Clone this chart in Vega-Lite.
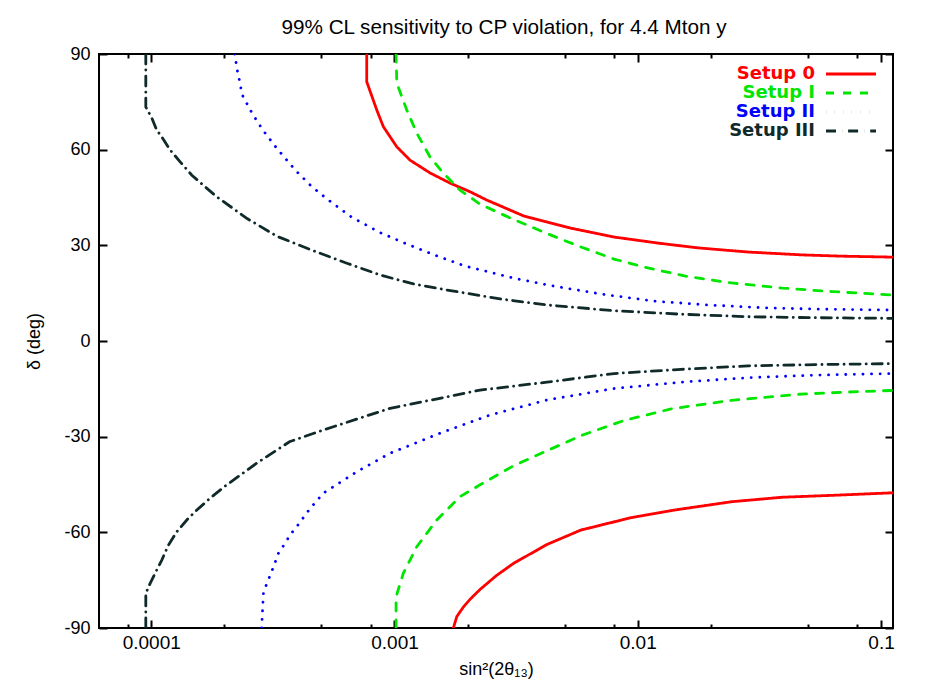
{
  "$schema": "https://vega.github.io/schema/vega-lite/v6.json",
  "width": 794,
  "height": 574,
  "autosize": {"type": "none"},
  "padding": {"left": 99, "top": 54, "right": 46, "bottom": 63},
  "background": "white",
  "title": {"text": "99% CL sensitivity to CP violation, for 4.4 Mton y", "font": "Liberation Sans", "fontSize": 20.7, "fontWeight": "normal", "color": "black", "offset": 6, "dx": 8},
  "config": {
    "view": {"stroke": "black", "strokeWidth": 2},
    "font": "Liberation Sans",
    "axis": {"labelFont": "Liberation Sans", "labelFontSize": 18, "labelColor": "black", "titleFont": "Liberation Sans", "titleFontSize": 18, "titleFontWeight": "normal", "titleColor": "black", "tickColor": "black", "tickWidth": 2, "grid": false, "domain": false, "labelFlush": false}
  },
  "data": {"values": [
    {"setup": "Setup 0", "branch": "u0", "i": 1, "x": 0.000769, "y": 90},
    {"setup": "Setup 0", "branch": "u0", "i": 2, "x": 0.000769, "y": 81.3},
    {"setup": "Setup 0", "branch": "u0", "i": 3, "x": 0.000846, "y": 72.4},
    {"setup": "Setup 0", "branch": "u0", "i": 4, "x": 0.0009, "y": 67.2},
    {"setup": "Setup 0", "branch": "u0", "i": 5, "x": 0.001022, "y": 60.9},
    {"setup": "Setup 0", "branch": "u0", "i": 6, "x": 0.001159, "y": 56.7},
    {"setup": "Setup 0", "branch": "u0", "i": 7, "x": 0.0014, "y": 52.7},
    {"setup": "Setup 0", "branch": "u0", "i": 8, "x": 0.001693, "y": 49.5},
    {"setup": "Setup 0", "branch": "u0", "i": 9, "x": 0.002045, "y": 46.8},
    {"setup": "Setup 0", "branch": "u0", "i": 10, "x": 0.002395, "y": 44.2},
    {"setup": "Setup 0", "branch": "u0", "i": 11, "x": 0.0034, "y": 39.2},
    {"setup": "Setup 0", "branch": "u0", "i": 12, "x": 0.0053, "y": 35.4},
    {"setup": "Setup 0", "branch": "u0", "i": 13, "x": 0.00799, "y": 32.6},
    {"setup": "Setup 0", "branch": "u0", "i": 14, "x": 0.01212, "y": 30.7},
    {"setup": "Setup 0", "branch": "u0", "i": 15, "x": 0.01769, "y": 29.2},
    {"setup": "Setup 0", "branch": "u0", "i": 16, "x": 0.0284, "y": 27.9},
    {"setup": "Setup 0", "branch": "u0", "i": 17, "x": 0.04735, "y": 27.0},
    {"setup": "Setup 0", "branch": "u0", "i": 18, "x": 0.06914, "y": 26.6},
    {"setup": "Setup 0", "branch": "u0", "i": 19, "x": 0.112, "y": 26.3},
    {"setup": "Setup 0", "branch": "l0", "i": 1, "x": 0.001746, "y": -90},
    {"setup": "Setup 0", "branch": "l0", "i": 2, "x": 0.001804, "y": -86.4},
    {"setup": "Setup 0", "branch": "l0", "i": 3, "x": 0.001920, "y": -83.4},
    {"setup": "Setup 0", "branch": "l0", "i": 4, "x": 0.002045, "y": -81.0},
    {"setup": "Setup 0", "branch": "l0", "i": 5, "x": 0.002248, "y": -77.9},
    {"setup": "Setup 0", "branch": "l0", "i": 6, "x": 0.00262, "y": -73.6},
    {"setup": "Setup 0", "branch": "l0", "i": 7, "x": 0.00309, "y": -69.7},
    {"setup": "Setup 0", "branch": "l0", "i": 8, "x": 0.004238, "y": -63.8},
    {"setup": "Setup 0", "branch": "l0", "i": 9, "x": 0.005831, "y": -59.3},
    {"setup": "Setup 0", "branch": "l0", "i": 10, "x": 0.00939, "y": -55.4},
    {"setup": "Setup 0", "branch": "l0", "i": 11, "x": 0.01418, "y": -53.0},
    {"setup": "Setup 0", "branch": "l0", "i": 12, "x": 0.02434, "y": -50.4},
    {"setup": "Setup 0", "branch": "l0", "i": 13, "x": 0.03918, "y": -49.0},
    {"setup": "Setup 0", "branch": "l0", "i": 14, "x": 0.06288, "y": -48.4},
    {"setup": "Setup 0", "branch": "l0", "i": 15, "x": 0.112, "y": -47.6},
    {"setup": "Setup I", "branch": "u1", "i": 1, "x": 0.001015, "y": 90},
    {"setup": "Setup I", "branch": "u1", "i": 2, "x": 0.001022, "y": 80.9},
    {"setup": "Setup I", "branch": "u1", "i": 3, "x": 0.001124, "y": 72.4},
    {"setup": "Setup I", "branch": "u1", "i": 4, "x": 0.001235, "y": 65.2},
    {"setup": "Setup I", "branch": "u1", "i": 5, "x": 0.0014, "y": 57.7},
    {"setup": "Setup I", "branch": "u1", "i": 6, "x": 0.001584, "y": 52.7},
    {"setup": "Setup I", "branch": "u1", "i": 7, "x": 0.001861, "y": 47.3},
    {"setup": "Setup I", "branch": "u1", "i": 8, "x": 0.002248, "y": 42.9},
    {"setup": "Setup I", "branch": "u1", "i": 9, "x": 0.002986, "y": 38.6},
    {"setup": "Setup I", "branch": "u1", "i": 10, "x": 0.004238, "y": 33.7},
    {"setup": "Setup I", "branch": "u1", "i": 11, "x": 0.005831, "y": 29.5},
    {"setup": "Setup I", "branch": "u1", "i": 12, "x": 0.00799, "y": 25.7},
    {"setup": "Setup I", "branch": "u1", "i": 13, "x": 0.01102, "y": 22.9},
    {"setup": "Setup I", "branch": "u1", "i": 14, "x": 0.0161, "y": 20.2},
    {"setup": "Setup I", "branch": "u1", "i": 15, "x": 0.02434, "y": 18.2},
    {"setup": "Setup I", "branch": "u1", "i": 16, "x": 0.03918, "y": 16.6},
    {"setup": "Setup I", "branch": "u1", "i": 17, "x": 0.06288, "y": 15.5},
    {"setup": "Setup I", "branch": "u1", "i": 18, "x": 0.112, "y": 14.4},
    {"setup": "Setup I", "branch": "l1", "i": 1, "x": 0.001015, "y": -90},
    {"setup": "Setup I", "branch": "l1", "i": 2, "x": 0.001015, "y": -80.2},
    {"setup": "Setup I", "branch": "l1", "i": 3, "x": 0.001088, "y": -72.8},
    {"setup": "Setup I", "branch": "l1", "i": 4, "x": 0.001235, "y": -64.5},
    {"setup": "Setup I", "branch": "l1", "i": 5, "x": 0.001493, "y": -56.1},
    {"setup": "Setup I", "branch": "l1", "i": 6, "x": 0.001861, "y": -48.8},
    {"setup": "Setup I", "branch": "l1", "i": 7, "x": 0.002248, "y": -45.1},
    {"setup": "Setup I", "branch": "l1", "i": 8, "x": 0.00309, "y": -39.1},
    {"setup": "Setup I", "branch": "l1", "i": 9, "x": 0.004238, "y": -34.4},
    {"setup": "Setup I", "branch": "l1", "i": 10, "x": 0.005831, "y": -29.7},
    {"setup": "Setup I", "branch": "l1", "i": 11, "x": 0.00881, "y": -24.9},
    {"setup": "Setup I", "branch": "l1", "i": 12, "x": 0.0137, "y": -21.3},
    {"setup": "Setup I", "branch": "l1", "i": 13, "x": 0.02434, "y": -18.6},
    {"setup": "Setup I", "branch": "l1", "i": 14, "x": 0.04593, "y": -16.7},
    {"setup": "Setup I", "branch": "l1", "i": 15, "x": 0.07387, "y": -16.0},
    {"setup": "Setup I", "branch": "l1", "i": 16, "x": 0.112, "y": -15.5},
    {"setup": "Setup II", "branch": "u2", "i": 1, "x": 0.0002203, "y": 90},
    {"setup": "Setup II", "branch": "u2", "i": 2, "x": 0.000227, "y": 83.9},
    {"setup": "Setup II", "branch": "u2", "i": 3, "x": 0.000232, "y": 80.8},
    {"setup": "Setup II", "branch": "u2", "i": 4, "x": 0.0002358, "y": 77.4},
    {"setup": "Setup II", "branch": "u2", "i": 5, "x": 0.0002472, "y": 74.5},
    {"setup": "Setup II", "branch": "u2", "i": 6, "x": 0.0002591, "y": 71.6},
    {"setup": "Setup II", "branch": "u2", "i": 7, "x": 0.0002732, "y": 68.8},
    {"setup": "Setup II", "branch": "u2", "i": 8, "x": 0.0002892, "y": 65.9},
    {"setup": "Setup II", "branch": "u2", "i": 9, "x": 0.000308, "y": 63.2},
    {"setup": "Setup II", "branch": "u2", "i": 10, "x": 0.0003283, "y": 60.4},
    {"setup": "Setup II", "branch": "u2", "i": 11, "x": 0.0003495, "y": 58.0},
    {"setup": "Setup II", "branch": "u2", "i": 12, "x": 0.0003723, "y": 55.5},
    {"setup": "Setup II", "branch": "u2", "i": 13, "x": 0.0003966, "y": 53.1},
    {"setup": "Setup II", "branch": "u2", "i": 14, "x": 0.0004571, "y": 48.4},
    {"setup": "Setup II", "branch": "u2", "i": 15, "x": 0.000535, "y": 44.2},
    {"setup": "Setup II", "branch": "u2", "i": 16, "x": 0.0006675, "y": 38.8},
    {"setup": "Setup II", "branch": "u2", "i": 17, "x": 0.0008727, "y": 34.0},
    {"setup": "Setup II", "branch": "u2", "i": 18, "x": 0.001124, "y": 30.4},
    {"setup": "Setup II", "branch": "u2", "i": 19, "x": 0.001493, "y": 26.7},
    {"setup": "Setup II", "branch": "u2", "i": 20, "x": 0.001951, "y": 23.5},
    {"setup": "Setup II", "branch": "u2", "i": 21, "x": 0.00255, "y": 21.3},
    {"setup": "Setup II", "branch": "u2", "i": 22, "x": 0.00309, "y": 19.7},
    {"setup": "Setup II", "branch": "u2", "i": 23, "x": 0.004519, "y": 17.2},
    {"setup": "Setup II", "branch": "u2", "i": 24, "x": 0.00727, "y": 14.6},
    {"setup": "Setup II", "branch": "u2", "i": 25, "x": 0.01173, "y": 12.5},
    {"setup": "Setup II", "branch": "u2", "i": 26, "x": 0.01945, "y": 11.3},
    {"setup": "Setup II", "branch": "u2", "i": 27, "x": 0.03335, "y": 10.4},
    {"setup": "Setup II", "branch": "u2", "i": 28, "x": 0.05385, "y": 10.0},
    {"setup": "Setup II", "branch": "u2", "i": 29, "x": 0.112, "y": 9.7},
    {"setup": "Setup II", "branch": "l2", "i": 1, "x": 0.0002843, "y": -90},
    {"setup": "Setup II", "branch": "l2", "i": 2, "x": 0.0002892, "y": -79.1},
    {"setup": "Setup II", "branch": "l2", "i": 3, "x": 0.0002986, "y": -76.0},
    {"setup": "Setup II", "branch": "l2", "i": 4, "x": 0.000311, "y": -72.8},
    {"setup": "Setup II", "branch": "l2", "i": 5, "x": 0.0003333, "y": -66.6},
    {"setup": "Setup II", "branch": "l2", "i": 6, "x": 0.0003551, "y": -63.4},
    {"setup": "Setup II", "branch": "l2", "i": 7, "x": 0.0003723, "y": -60.8},
    {"setup": "Setup II", "branch": "l2", "i": 8, "x": 0.0003966, "y": -58.2},
    {"setup": "Setup II", "branch": "l2", "i": 9, "x": 0.00045, "y": -52.5},
    {"setup": "Setup II", "branch": "l2", "i": 10, "x": 0.0005103, "y": -47.7},
    {"setup": "Setup II", "branch": "l2", "i": 11, "x": 0.0006998, "y": -41.0},
    {"setup": "Setup II", "branch": "l2", "i": 12, "x": 0.000959, "y": -35.2},
    {"setup": "Setup II", "branch": "l2", "i": 13, "x": 0.00154, "y": -28.9},
    {"setup": "Setup II", "branch": "l2", "i": 14, "x": 0.002471, "y": -23.2},
    {"setup": "Setup II", "branch": "l2", "i": 15, "x": 0.004238, "y": -18.5},
    {"setup": "Setup II", "branch": "l2", "i": 16, "x": 0.00799, "y": -14.9},
    {"setup": "Setup II", "branch": "l2", "i": 17, "x": 0.01507, "y": -12.9},
    {"setup": "Setup II", "branch": "l2", "i": 18, "x": 0.0284, "y": -11.5},
    {"setup": "Setup II", "branch": "l2", "i": 19, "x": 0.05385, "y": -10.7},
    {"setup": "Setup II", "branch": "l2", "i": 20, "x": 0.112, "y": -10.2},
    {"setup": "Setup III", "branch": "u3", "i": 1, "x": 0.000095, "y": 90},
    {"setup": "Setup III", "branch": "u3", "i": 2, "x": 0.000095, "y": 73.4},
    {"setup": "Setup III", "branch": "u3", "i": 3, "x": 0.0001006, "y": 69.9},
    {"setup": "Setup III", "branch": "u3", "i": 4, "x": 0.0001054, "y": 66.1},
    {"setup": "Setup III", "branch": "u3", "i": 5, "x": 0.0001105, "y": 64.0},
    {"setup": "Setup III", "branch": "u3", "i": 6, "x": 0.0001196, "y": 59.9},
    {"setup": "Setup III", "branch": "u3", "i": 7, "x": 0.0001315, "y": 56.2},
    {"setup": "Setup III", "branch": "u3", "i": 8, "x": 0.0001469, "y": 52.0},
    {"setup": "Setup III", "branch": "u3", "i": 9, "x": 0.0001634, "y": 48.9},
    {"setup": "Setup III", "branch": "u3", "i": 10, "x": 0.0001861, "y": 45.2},
    {"setup": "Setup III", "branch": "u3", "i": 11, "x": 0.0002479, "y": 38.4},
    {"setup": "Setup III", "branch": "u3", "i": 12, "x": 0.0003293, "y": 32.8},
    {"setup": "Setup III", "branch": "u3", "i": 13, "x": 0.0004642, "y": 28.3},
    {"setup": "Setup III", "branch": "u3", "i": 14, "x": 0.0006368, "y": 24.4},
    {"setup": "Setup III", "branch": "u3", "i": 15, "x": 0.0008727, "y": 20.7},
    {"setup": "Setup III", "branch": "u3", "i": 16, "x": 0.001196, "y": 17.9},
    {"setup": "Setup III", "branch": "u3", "i": 17, "x": 0.00164, "y": 16.0},
    {"setup": "Setup III", "branch": "u3", "i": 18, "x": 0.002716, "y": 13.2},
    {"setup": "Setup III", "branch": "u3", "i": 19, "x": 0.004238, "y": 11.3},
    {"setup": "Setup III", "branch": "u3", "i": 20, "x": 0.00799, "y": 9.5},
    {"setup": "Setup III", "branch": "u3", "i": 21, "x": 0.01507, "y": 8.4},
    {"setup": "Setup III", "branch": "u3", "i": 22, "x": 0.02853, "y": 7.6},
    {"setup": "Setup III", "branch": "u3", "i": 23, "x": 0.05385, "y": 7.3},
    {"setup": "Setup III", "branch": "u3", "i": 24, "x": 0.112, "y": 7.1},
    {"setup": "Setup III", "branch": "l3", "i": 1, "x": 0.000095, "y": -90},
    {"setup": "Setup III", "branch": "l3", "i": 2, "x": 0.000095, "y": -79.1},
    {"setup": "Setup III", "branch": "l3", "i": 3, "x": 0.000099, "y": -76.0},
    {"setup": "Setup III", "branch": "l3", "i": 4, "x": 0.0001038, "y": -72.8},
    {"setup": "Setup III", "branch": "l3", "i": 5, "x": 0.0001105, "y": -68.7},
    {"setup": "Setup III", "branch": "l3", "i": 6, "x": 0.0001177, "y": -64.0},
    {"setup": "Setup III", "branch": "l3", "i": 7, "x": 0.0001274, "y": -59.8},
    {"setup": "Setup III", "branch": "l3", "i": 8, "x": 0.0001409, "y": -55.9},
    {"setup": "Setup III", "branch": "l3", "i": 9, "x": 0.000154, "y": -53.0},
    {"setup": "Setup III", "branch": "l3", "i": 10, "x": 0.0001747, "y": -49.3},
    {"setup": "Setup III", "branch": "l3", "i": 11, "x": 0.0002012, "y": -45.5},
    {"setup": "Setup III", "branch": "l3", "i": 12, "x": 0.0002716, "y": -38.3},
    {"setup": "Setup III", "branch": "l3", "i": 13, "x": 0.00037, "y": -31.6},
    {"setup": "Setup III", "branch": "l3", "i": 14, "x": 0.0005103, "y": -27.9},
    {"setup": "Setup III", "branch": "l3", "i": 15, "x": 0.000959, "y": -21.1},
    {"setup": "Setup III", "branch": "l3", "i": 16, "x": 0.001804, "y": -16.9},
    {"setup": "Setup III", "branch": "l3", "i": 17, "x": 0.002248, "y": -15.4},
    {"setup": "Setup III", "branch": "l3", "i": 18, "x": 0.004238, "y": -12.9},
    {"setup": "Setup III", "branch": "l3", "i": 19, "x": 0.00799, "y": -10.2},
    {"setup": "Setup III", "branch": "l3", "i": 20, "x": 0.01507, "y": -8.9},
    {"setup": "Setup III", "branch": "l3", "i": 21, "x": 0.0284, "y": -7.8},
    {"setup": "Setup III", "branch": "l3", "i": 22, "x": 0.05385, "y": -7.4},
    {"setup": "Setup III", "branch": "l3", "i": 23, "x": 0.112, "y": -7.1}
  ]},
  "layer": [
    {
      "mark": {"type": "line", "strokeWidth": 2.8, "strokeCap": "round", "clip": true},
      "encoding": {
        "x": {"field": "x", "type": "quantitative", "scale": {"type": "log", "domain": [0.000061, 0.112], "nice": false},
          "axis": {"orient": "bottom", "values": [0.00008, 0.0001, 0.0002, 0.0005, 0.0008, 0.001, 0.002, 0.005, 0.008, 0.01, 0.02, 0.05, 0.08, 0.1],
            "tickSize": {"condition": {"test": "abs(log(datum.value)/LN10 - round(log(datum.value)/LN10)) < 0.01", "value": -8}, "value": -4},
            "labelExpr": "abs(log(datum.value)/LN10 - round(log(datum.value)/LN10)) < 0.01 ? toString(datum.value) : ''",
            "labelFontSize": 19, "labelPadding": 13, "title": "sin²(2θ₁₃)", "titlePadding": 8}},
        "y": {"field": "y", "type": "quantitative", "scale": {"domain": [-90, 90], "nice": false},
          "axis": {"orient": "left", "values": [-90, -60, -30, 0, 30, 60, 90], "tickSize": -8, "labelExpr": "toString(datum.value)", "labelPadding": 17, "title": "δ (deg)", "titlePadding": 20}},
        "color": {"field": "setup", "type": "nominal",
          "scale": {"domain": ["Setup 0", "Setup I", "Setup II", "Setup III"], "range": ["#ff0000", "#00e600", "#0000ff", "#102a2a"]},
          "legend": {"title": null, "orient": "top-right", "offset": 11, "padding": 0, "symbolType": "M-5,0H5", "symbolSize": 100, "symbolStrokeWidth": 2.8,
            "labelFont": "DejaVu Sans", "labelFontWeight": "bold", "labelFontSize": 18, "labelAlign": "right", "labelOffset": -45, "rowPadding": 1,
            "encode": {"labels": {"update": {"fill": {"scale": "color", "field": "value"}}}}}},
        "strokeDash": {"field": "setup", "type": "nominal",
          "scale": {"domain": ["Setup 0", "Setup I", "Setup II", "Setup III"], "range": [[1, 0], [8, 9], [0.1, 8.5], [10, 6, 0.1, 6]]},
          "legend": {"title": null, "orient": "top-right", "offset": 11, "padding": 0, "symbolType": "M-5,0H5", "symbolSize": 100, "symbolStrokeWidth": 2.8,
            "labelFont": "DejaVu Sans", "labelFontWeight": "bold", "labelFontSize": 18, "labelAlign": "right", "labelOffset": -45, "rowPadding": 1,
            "encode": {"labels": {"update": {"fill": {"scale": "color", "field": "value"}}}}}},
        "detail": {"field": "branch"},
        "order": {"field": "i", "type": "quantitative"}
      }
    },
    {
      "mark": {"type": "line", "opacity": 0},
      "encoding": {
        "x": {"field": "x", "type": "quantitative",
          "axis": {"orient": "top", "values": [0.00008, 0.0001, 0.0002, 0.0005, 0.0008, 0.001, 0.002, 0.005, 0.008, 0.01, 0.02, 0.05, 0.08, 0.1],
            "tickSize": {"condition": {"test": "abs(log(datum.value)/LN10 - round(log(datum.value)/LN10)) < 0.01", "value": -8}, "value": -4},
            "labels": false, "title": null}},
        "y": {"field": "y", "type": "quantitative",
          "axis": {"orient": "right", "values": [-90, -60, -30, 0, 30, 60, 90], "tickSize": -8, "labels": false, "title": null}},
        "detail": {"field": "branch"},
        "order": {"field": "i", "type": "quantitative"}
      }
    }
  ],
  "resolve": {"axis": {"x": "independent", "y": "independent"}}
}
